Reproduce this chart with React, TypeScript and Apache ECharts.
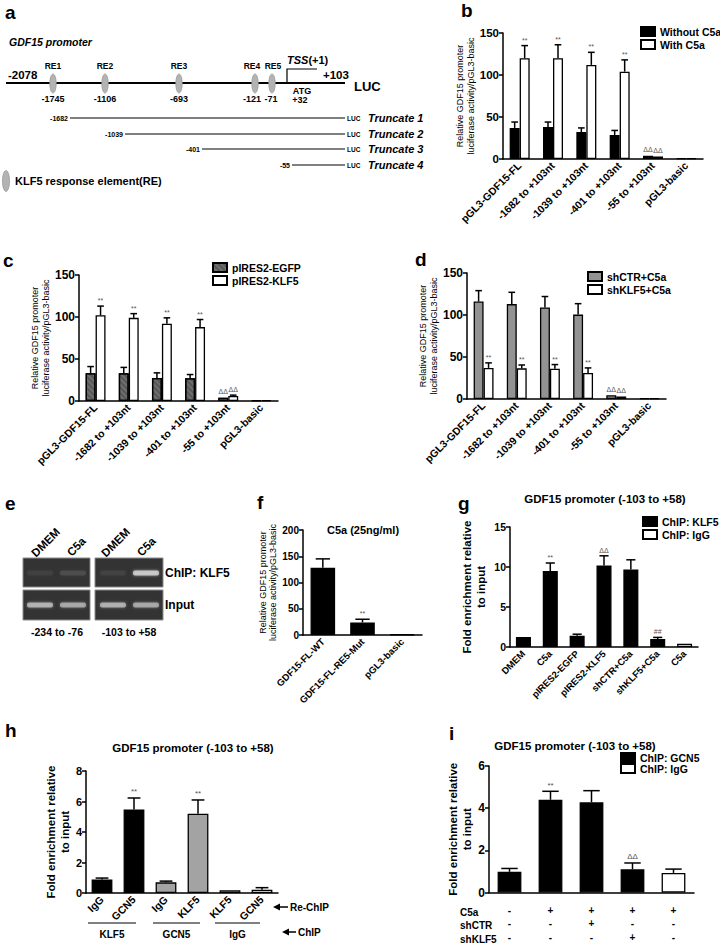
import React, { useEffect, useRef } from 'react';
import * as echarts from 'echarts';

const FONT = '"Liberation Sans", Arial, Helvetica, sans-serif';

// ---------- Panel a (schematic) ----------
const reNames = ['RE1', 'RE2', 'RE3', 'RE4', 'RE5'];
const rePositions = ['-1745', '-1106', '-693', '-121', '-71'];
const truncateStarts = ['-1682', '-1039', '-401', '-55'];
const truncateNames = ['Truncate 1', 'Truncate 2', 'Truncate 3', 'Truncate 4'];

// ---------- Panel b ----------
const bCategories = ['pGL3-GDF15-FL', '-1682 to +103nt', '-1039 to +103nt', '-401 to +103nt', '-55 to +103nt', 'pGL3-basic'];
const bWithout = [37, 38, 32, 28.5, 4, 1];
const bWithoutSem = [7, 6, 5, 5.5, 0.6, 0.1];
const bWith = [120, 120, 112, 104, 3, 1];
const bWithSem = [15, 16, 15, 14, 0.6, 0.1];
const bWithoutMarks = ['', '', '', '', 'ΔΔ', ''];
const bWithMarks = ['**', '**', '**', '**', 'ΔΔ', ''];

// ---------- Panel c ----------
const cEGFP = [33, 33, 27.5, 27, 4, 1];
const cEGFPSem = [8, 7, 6, 4.5, 0.6, 0.1];
const cKLF5 = [102, 99, 92, 88, 6, 1];
const cKLF5Sem = [11, 5, 7, 9, 1, 0.1];
const cEGFPMarks = ['', '', '', '', 'ΔΔ', ''];
const cKLF5Marks = ['**', '**', '**', '**', 'ΔΔ', ''];

// ---------- Panel d ----------
const dShCTR = [116, 113, 109, 100.5, 4.5, 1];
const dShCTRSem = [13, 14, 13, 13, 0.6, 0.1];
const dShKLF5 = [37, 36.5, 36, 31, 3, 1];
const dShKLF5Sem = [6, 4, 5, 6, 0.6, 0.1];
const dShCTRMarks = ['', '', '', '', 'ΔΔ', ''];
const dShKLF5Marks = ['**', '**', '**', '**', 'ΔΔ', ''];

// ---------- Panel e (gel) ----------
const gelLanes = ['DMEM', 'C5a', 'DMEM', 'C5a'];
const gelChIPIntensity = [0.05, 0.1, 0.06, 0.8];
const gelInputIntensity = [0.62, 0.55, 0.6, 0.55];
const gelRegions = ['-234 to -76', '-103 to +58'];

// ---------- Panel f ----------
const fCategories = ['GDF15-FL-WT', 'GDF15-FL-RE5-Mut', 'pGL3-basic'];
const fValues = [128, 24, 1];
const fSem = [17, 6, 0];
const fMarks = ['', '**', ''];

// ---------- Panel g ----------
const gCategories = ['DMEM', 'C5a', 'pIRES2-EGFP', 'pIRES2-KLF5', 'shCTR+C5a', 'shKLF5+C5a', 'C5a'];
const gKLF5 = [1.25, 9.5, 1.4, 10.2, 9.7, 1.0, null];
const gKLF5Sem = [0.1, 1.0, 0.2, 1.2, 1.2, 0.2, null];
const gIgG = [null, null, null, null, null, null, 0.42];
const gIgGSem = [null, null, null, null, null, null, 0.04];
const gMarks = ['', '**', '', 'ΔΔ', '', '##', ''];

// ---------- Panel h ----------
const hCategories = ['IgG', 'GCN5', 'IgG', 'KLF5', 'KLF5', 'GCN5'];
const hValues = [0.88, 5.48, 0.7, 5.2, 0.18, 0.22];
const hSem = [0.1, 0.75, 0.08, 0.9, 0.04, 0.13];
const hMarks = ['', '**', '', '**', '', ''];
const hChIPGroups = ['KLF5', 'GCN5', 'IgG'];
const hBarColors = ['#000000', '#000000', '#a3a3a3', '#a3a3a3', '#ffffff', '#ffffff'];

// ---------- Panel i ----------
const iConditions = ['control', 'C5a', 'C5a+shCTR', 'C5a+shKLF5', 'C5a IgG'];
const iGCN5 = [0.98, 4.4, 4.28, 1.1, null];
const iGCN5Sem = [0.16, 0.4, 0.55, 0.3, null];
const iIgG = [null, null, null, null, 0.93];
const iIgGSem = [null, null, null, null, 0.18];
const iMarks = ['', '**', '', 'ΔΔ', ''];
const iRowC5a = ['-', '+', '+', '+', '+'];
const iRowShCTR = ['-', '-', '+', '-', '-'];
const iRowShKLF5 = ['-', '-', '-', '+', '-'];
const iRowNames = ['C5a', 'shCTR', 'shKLF5'];

// ---------- helpers ----------
function txt(x: number, y: number, text: string, o: any = {}) {
  const align = o.align ?? 'left';
  const valign = o.valign ?? 'middle';
  return {
    type: 'text',
    x,
    y,
    silent: true,
    style: {
      text,
      fontFamily: FONT,
      fontSize: o.size ?? 11,
      fontWeight: o.weight ?? 'bold',
      fontStyle: o.italic ? 'italic' : 'normal',
      fill: o.color ?? '#000',
      textAlign: align,
      textVerticalAlign: valign,
      align,
      verticalAlign: valign,
      rich: o.rich,
    },
  };
}

function line(x1: number, y1: number, x2: number, y2: number, w = 1, color = '#000') {
  return { type: 'line', silent: true, shape: { x1, y1, x2, y2 }, style: { stroke: color, lineWidth: w } };
}

function errSeries(gi: number, vals: any[], sems: any[], marks: string[], off: number, capFrac: number, markSize = 8) {
  const data = vals
    .map((v, i) => (v == null ? null : [i, v, v + (sems[i] ?? 0)]))
    .filter((d) => d != null);
  return {
    type: 'custom',
    xAxisIndex: gi,
    yAxisIndex: gi,
    z: 5,
    silent: true,
    data,
    renderItem: (params: any, api: any) => {
      const i = api.value(0);
      const v = api.value(1);
      const e = api.value(2);
      const bw = api.size([1, 0])[0];
      const p0 = api.coord([i, v]);
      const p1 = api.coord([i, e]);
      const cx = p0[0] + off * bw;
      const cw = capFrac * bw;
      const children: any[] = [];
      if (p0[1] - p1[1] > 0.8) {
        children.push({ type: 'line', shape: { x1: cx, y1: p0[1], x2: cx, y2: p1[1] }, style: { stroke: '#000', lineWidth: 1.5 } });
        children.push({ type: 'line', shape: { x1: cx - cw, y1: p1[1], x2: cx + cw, y2: p1[1] }, style: { stroke: '#000', lineWidth: 1.5 } });
      }
      const m = marks[i];
      if (m) {
        children.push({
          type: 'text',
          style: {
            text: m, x: cx, y: p1[1] - 2, fontSize: markSize, fontFamily: FONT, fill: '#555',
            textAlign: 'center', textVerticalAlign: 'bottom', align: 'center', verticalAlign: 'bottom',
          },
        });
      }
      return { type: 'group', children };
    },
  };
}

const axisLineStyle = { color: '#000', width: 1.5 };

function xAxisCfg(gi: number, data: string[], fontSize = 10, extra: any = {}) {
  return {
    type: 'category',
    gridIndex: gi,
    data,
    axisLine: { lineStyle: axisLineStyle },
    axisTick: { alignWithLabel: true, length: 4, lineStyle: axisLineStyle },
    axisLabel: {
      rotate: 45, interval: 0, fontSize, fontWeight: 'bold', color: '#000', margin: 5, fontFamily: FONT,
      ...extra,
    },
  };
}

function yAxisCfg(gi: number, max: number, interval: number, name: string, nameGap: number, fontSize: number, nameStyle: any) {
  return {
    type: 'value',
    gridIndex: gi,
    min: 0,
    max,
    interval,
    name,
    nameLocation: 'middle',
    nameGap,
    nameTextStyle: { fontFamily: FONT, color: '#000', ...nameStyle },
    axisLine: { show: true, lineStyle: axisLineStyle },
    axisTick: { show: true, length: 4, lineStyle: axisLineStyle },
    splitLine: { show: false },
    axisLabel: { fontSize, fontWeight: 'bold', color: '#000', margin: 4, fontFamily: FONT },
  };
}

const relName = 'Relative GDF15 promoter\nluciferase activity/pGL3-basic';
const relStyle = { fontSize: 9, lineHeight: 10.5, fontWeight: 'normal' };
const foldName = 'Fold enrichment relative\nto input';
const foldStyle = { fontSize: 11.5, lineHeight: 14, fontWeight: 'bold' };

const legendBase = {
  orient: 'vertical',
  icon: 'rect',
  itemWidth: 14,
  itemHeight: 9,
  itemGap: 2,
  padding: 0,
  selectedMode: false,
  textStyle: { fontFamily: FONT, fontSize: 10.5, fontWeight: 'bold', color: '#000' },
};

function barSeries(name: string, gi: number, data: any[], color: string, extra: any = {}) {
  return {
    type: 'bar',
    name,
    xAxisIndex: gi,
    yAxisIndex: gi,
    data,
    barGap: '0%',
    barCategoryGap: '40%',
    itemStyle: { color, borderColor: '#000', borderWidth: 1.3 },
    ...extra,
  };
}

function buildGraphic() {
  const g: any[] = [];
  // panel letters
  const letters: [string, number, number][] = [
    ['a', 5, 12], ['b', 461, 10], ['c', 3, 260], ['d', 415, 259], ['e', 5, 503],
    ['f', 257, 502], ['g', 458, 503], ['h', 5, 730], ['i', 449, 733],
  ];
  letters.forEach(([l, x, y]) => g.push(txt(x, y, l, { size: 19 })));

  // ---- panel a ----
  g.push(txt(9, 42, 'GDF15 promoter', { size: 10.5, italic: true }));
  g.push(line(6, 83, 345, 83, 2));
  g.push(txt(8, 75, '-2078', { size: 11.5 }));
  g.push(txt(323, 75, '+103', { size: 11.5 }));
  g.push(txt(354, 86, 'LUC', { size: 13 }));
  const reX = [53, 105, 179, 255, 272];
  const posX = [53, 105, 179, 252, 271];
  reNames.forEach((n, k) => {
    g.push({ type: 'ellipse', silent: true, shape: { cx: reX[k], cy: 83.5, rx: 3.2, ry: 9.5 }, style: { fill: '#b3b3b3', stroke: '#9a9a9a', lineWidth: 0.8 } });
    g.push(txt(reX[k] + (k === 3 ? -3 : k === 4 ? 1 : 0), 66, n, { size: 8.5, align: 'center' }));
    g.push(txt(posX[k], 99, rePositions[k], { size: 9, align: 'center' }));
  });
  g.push({ type: 'polyline', silent: true, shape: { points: [[287, 83], [287, 69], [317, 69]] }, style: { stroke: '#000', lineWidth: 1.2, fill: null } });
  g.push(txt(287, 60, '{i|TSS}{b|(+1)}', {
    size: 11,
    rich: {
      i: { fontFamily: FONT, fontSize: 11, fontStyle: 'italic', fontWeight: 'bold' },
      b: { fontFamily: FONT, fontSize: 11, fontWeight: 'bold' },
    },
  }));
  g.push(txt(302, 90.5, 'ATG', { size: 9, align: 'center' }));
  g.push(txt(300, 100, '+32', { size: 9, align: 'center' }));
  const trY = [118, 134, 149, 165];
  const trX = [70, 125, 202, 292];
  truncateStarts.forEach((s, k) => {
    g.push(txt(trX[k] - 2, trY[k], s, { size: 7, align: 'right' }));
    g.push(line(trX[k], trY[k], 345, trY[k], 1));
    g.push(txt(347, trY[k] + 0.5, 'LUC', { size: 6.5 }));
    g.push(txt(368, trY[k], truncateNames[k], { size: 11, italic: true }));
  });
  g.push({ type: 'ellipse', silent: true, shape: { cx: 6, cy: 181, rx: 3.5, ry: 10.5 }, style: { fill: '#b3b3b3', stroke: '#9a9a9a', lineWidth: 0.8 } });
  g.push(txt(15, 181, 'KLF5 response element(RE)', { size: 11 }));

  // ---- panel e (gel) ----
  const boxes = [[23, 90], [95, 163]];
  const rows = [[558, 587], [590, 620]];
  boxes.forEach(([x0, x1]) => rows.forEach(([y0, y1]) => {
    g.push({ type: 'rect', silent: true, shape: { x: x0, y: y0, width: x1 - x0, height: y1 - y0 }, style: { fill: '#333333', stroke: '#8a8a8a', lineWidth: 1 } });
  }));
  const bandX = [40, 73, 113, 146];
  gelLanes.forEach((lane, k) => {
    const a1 = gelChIPIntensity[k];
    g.push({ type: 'rect', silent: true, shape: { x: bandX[k] - 13, y: 570.5, width: 26, height: 5, r: 2 }, style: { fill: '#d8d8d8', opacity: a1, shadowBlur: 3, shadowColor: 'rgba(255,255,255,0.6)' } });
    const a2 = gelInputIntensity[k];
    g.push({ type: 'rect', silent: true, shape: { x: bandX[k] - 13, y: 602.5, width: 26, height: 5, r: 2 }, style: { fill: '#d8d8d8', opacity: a2, shadowBlur: 3, shadowColor: 'rgba(255,255,255,0.6)' } });
  });
  g.push(txt(165, 573, 'ChIP: KLF5', { size: 12 }));
  g.push(txt(165, 605, 'Input', { size: 12 }));
  g.push(txt(57, 632, gelRegions[0], { size: 10.5, align: 'center' }));
  g.push(txt(129, 632, gelRegions[1], { size: 10.5, align: 'center' }));

  // ---- titles ----
  g.push(txt(363, 530, 'C5a (25ng/ml)', { size: 11, align: 'center' }));
  g.push(txt(605, 499, 'GDF15 promoter (-103 to +58)', { size: 11.5, align: 'center' }));
  g.push(txt(193, 748, 'GDF15 promoter (-103 to +58)', { size: 11.5, align: 'center' }));
  g.push(txt(575, 746, 'GDF15 promoter (-103 to +58)', { size: 11.5, align: 'center' }));

  // ---- panel h annotations ----
  const arrow = (x0: number, x1: number, y: number) => {
    g.push(line(x0 + 5, y, x1, y, 1.5));
    g.push({ type: 'polygon', silent: true, shape: { points: [[x0, y], [x0 + 7, y - 3.5], [x0 + 7, y + 3.5]] }, style: { fill: '#000' } });
  };
  arrow(273, 288, 907);
  g.push(txt(290, 907, 'Re-ChIP', { size: 10 }));
  arrow(282, 296, 932);
  g.push(txt(298, 932, 'ChIP', { size: 10 }));
  const grpX = [[88, 136], [153, 200], [215, 260]];
  hChIPGroups.forEach((n, k) => {
    g.push(line(grpX[k][0], 923, grpX[k][1], 923, 1));
    g.push(txt((grpX[k][0] + grpX[k][1]) / 2, 934, n, { size: 10, align: 'center' }));
  });

  // ---- panel i row labels ----
  iRowNames.forEach((n, k) => g.push(txt(460, 912 + k * 13.5, n, { size: 10 })));
  return g;
}

function buildOption() {
  const grids = [
    { left: 503, top: 33, width: 200, height: 126 }, // b
    { left: 79, top: 275, width: 199, height: 126 }, // c
    { left: 467, top: 273, width: 199, height: 126 }, // d
    { left: 303, top: 530, width: 119, height: 105 }, // f
    { left: 510, top: 527, width: 188, height: 120 }, // g
    { left: 86, top: 771, width: 192, height: 122 }, // h
    { left: 489, top: 766, width: 205, height: 128 }, // i
    { left: 40.5, top: 500, width: 140, height: 28 }, // e: gel lane labels
  ];
  const iLabels = iConditions.map((_, k) => `${iRowC5a[k]}\n${iRowShCTR[k]}\n${iRowShKLF5[k]}`);
  const xAxis: any[] = [
    xAxisCfg(0, bCategories, 10.5),
    xAxisCfg(1, bCategories, 10.5),
    xAxisCfg(2, bCategories, 10.5),
    xAxisCfg(3, fCategories, 9.5),
    xAxisCfg(4, gCategories, 9.5),
    xAxisCfg(5, hCategories, 10.5),
    xAxisCfg(6, iLabels, 10, { rotate: 0, lineHeight: 13.5, margin: 11, verticalAlign: 'top' }),
    {
      type: 'category',
      gridIndex: 7,
      data: gelLanes,
      axisLine: { show: false },
      axisTick: { show: false },
      axisLabel: {
        rotate: 45, interval: 0, margin: 2, color: '#000',
        formatter: (v: string) => (v.length >= 4 ? `{l|${v}}` : `{s|${v}}`),
        rich: {
          l: { fontSize: 11.5, fontWeight: 'bold', fontFamily: FONT, color: '#000' },
          s: { fontSize: 11.5, fontWeight: 'bold', fontFamily: FONT, color: '#000', padding: [0, 13, 0, 0] },
        },
      },
    },
  ];
  const yAxis: any[] = [
    yAxisCfg(0, 150, 50, relName, 23, 11.5, relStyle),
    yAxisCfg(1, 150, 50, relName, 28, 12, relStyle),
    yAxisCfg(2, 150, 50, relName, 28, 12, relStyle),
    yAxisCfg(3, 200, 50, relName, 22, 10, relStyle),
    yAxisCfg(4, 15, 5, foldName, 22, 10.5, foldStyle),
    yAxisCfg(5, 8, 2, foldName, 14, 11, foldStyle),
    yAxisCfg(6, 6, 2, foldName, 13, 12, foldStyle),
    { type: 'value', gridIndex: 7, min: 0, max: 1, show: false },
  ];
  const hData = hValues.map((v, k) => ({ value: v, itemStyle: { color: hBarColors[k] } }));
  const series: any[] = [
    barSeries('Without C5a', 0, bWithout, '#000'),
    barSeries('With C5a', 0, bWith, '#fff'),
    errSeries(0, bWithout, bWithoutSem, bWithoutMarks, -0.15, 0.1, 7),
    errSeries(0, bWith, bWithSem, bWithMarks, 0.15, 0.1, 7),

    barSeries('pIRES2-EGFP', 1, cEGFP, '#6e6e6e', {
      itemStyle: {
        color: '#6e6e6e', borderColor: '#000', borderWidth: 1.3,
        decal: { symbol: 'rect', symbolSize: 0.8, color: 'rgba(20,20,20,0.45)', dashArrayX: [1, 0], dashArrayY: [1.5, 1.5], rotation: Math.PI / 4 },
      },
    }),
    barSeries('pIRES2-KLF5', 1, cKLF5, '#fff'),
    errSeries(1, cEGFP, cEGFPSem, cEGFPMarks, -0.15, 0.1, 7),
    errSeries(1, cKLF5, cKLF5Sem, cKLF5Marks, 0.15, 0.1, 7),

    barSeries('shCTR+C5a', 2, dShCTR, '#939393'),
    barSeries('shKLF5+C5a', 2, dShKLF5, '#fff'),
    errSeries(2, dShCTR, dShCTRSem, dShCTRMarks, -0.15, 0.1, 7),
    errSeries(2, dShKLF5, dShKLF5Sem, dShKLF5Marks, 0.15, 0.1, 7),

    barSeries('C5a (25ng/ml)', 3, fValues, '#000', { barWidth: '62%' }),
    errSeries(3, fValues, fSem, fMarks, 0, 0.18, 7),

    barSeries('ChIP: KLF5', 4, gKLF5, '#000', { barWidth: '56%', barGap: '-100%' }),
    barSeries('ChIP: IgG', 4, gIgG, '#fff', { barWidth: '56%', barGap: '-100%' }),
    errSeries(4, gKLF5, gKLF5Sem, gMarks, 0, 0.17, 7),
    errSeries(4, gIgG, gIgGSem, gMarks, 0, 0.17, 7),

    barSeries('Re-ChIP', 5, hData, '#000', { barWidth: '65%' }),
    errSeries(5, hValues, hSem, hMarks, 0, 0.2, 8),

    barSeries('ChIP: GCN5', 6, iGCN5, '#000', { barWidth: '58%', barGap: '-100%' }),
    barSeries('ChIP: IgG', 6, iIgG, '#fff', { barWidth: '58%', barGap: '-100%' }),
    errSeries(6, iGCN5, iGCN5Sem, iMarks, 0, 0.2, 8),
    errSeries(6, iIgG, iIgGSem, iMarks, 0, 0.2, 8),
  ];
  const legend = [
    { ...legendBase, data: ['Without C5a', 'With C5a'], left: 640, top: 26 },
    { ...legendBase, data: ['pIRES2-EGFP', 'pIRES2-KLF5'], left: 212, top: 262 },
    { ...legendBase, data: ['shCTR+C5a', 'shKLF5+C5a'], left: 587, top: 271 },
    { ...legendBase, data: ['ChIP: KLF5', 'ChIP: IgG'], left: 642, top: 516 },
    { ...legendBase, data: ['ChIP: GCN5', 'ChIP: IgG'], left: 620, top: 752, itemGap: 0 },
  ];
  return {
    animation: false,
    backgroundColor: '#fff',
    textStyle: { fontFamily: FONT },
    grid: grids,
    xAxis,
    yAxis,
    legend,
    series,
    graphic: { elements: buildGraphic() },
  };
}

export default function App() {
  const ref = useRef<HTMLDivElement>(null);
  useEffect(() => {
    if (!ref.current) return;
    const chart = echarts.init(ref.current, undefined, { renderer: 'svg' });
    chart.setOption(buildOption() as any);
    return () => chart.dispose();
  }, []);
  return (
    <div
      ref={ref}
      style={{ position: 'absolute', left: 0, top: 0, width: 720, height: 944, background: '#fff' }}
    />
  );
}
